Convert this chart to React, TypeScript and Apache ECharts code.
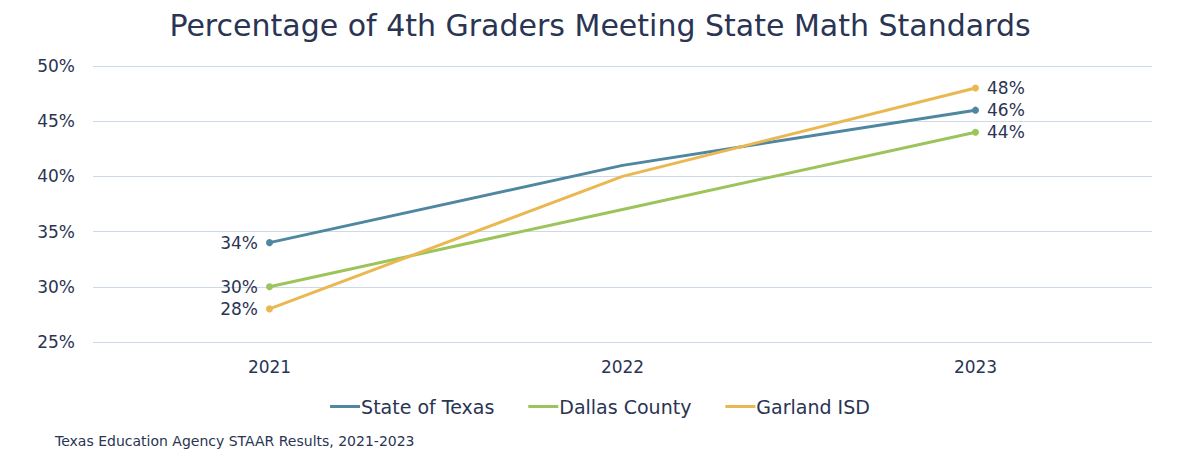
import React, { useEffect, useRef } from "react";
import * as echarts from "echarts";

const years = ["2021", "2022", "2023"];
const texas = [34, 41, 46];
const dallas = [30, 37, 44];
const garland = [28, 40, 48];
const seriesNames = ["State of Texas", "Dallas County", "Garland ISD"];
const colors = ["#4f87a0", "#9cc45b", "#eab851"];

const TEXT = "#2a3453";
const FONT = "DejaVu Sans";

function makeData(vals: number[]) {
  return vals.map((v, i) => ({
    value: v,
    symbolSize: i === 1 ? 0 : 7,
    label: {
      show: i !== 1,
      position: i === 0 ? "left" : "right",
      formatter: "{c}%",
      color: TEXT,
      fontSize: 17,
      fontFamily: FONT,
      distance: 8,
    },
  }));
}

export default function App() {
  const ref = useRef<HTMLDivElement>(null);
  useEffect(() => {
    const chart = echarts.init(ref.current!, null, { renderer: "svg" });
    const all = [texas, dallas, garland];
    chart.setOption({
      animation: false,
      backgroundColor: "#ffffff",
      title: {
        text: "Percentage of 4th Graders Meeting State Math Standards",
        left: "center",
        top: 5,
        textStyle: { color: TEXT, fontSize: 30, fontWeight: "normal", fontFamily: FONT },
      },
      graphic: [
        {
          type: "text",
          left: 55,
          top: 434,
          style: {
            text: "Texas Education Agency STAAR Results, 2021-2023",
            fill: TEXT,
            fontSize: 14,
            fontFamily: FONT,
          },
        },
      ],
      legend: {
        top: 392,
        left: "center",
        itemWidth: 30,
        itemHeight: 3,
        itemGap: 34,
        icon: "rect",
        textStyle: { color: TEXT, fontSize: 19, fontFamily: FONT, padding: [0, 0, 0, -4] },
        data: seriesNames,
      },
      grid: { left: 93, right: 48, top: 66, bottom: 121, containLabel: false },
      xAxis: {
        type: "category",
        data: years,
        boundaryGap: true,
        axisLine: { show: false },
        axisTick: { show: false },
        axisLabel: { color: TEXT, fontSize: 17, fontFamily: FONT, margin: 16 },
      },
      yAxis: {
        type: "value",
        min: 25,
        max: 50,
        interval: 5,
        axisLine: { show: false },
        axisTick: { show: false },
        splitLine: { lineStyle: { color: "#cdd9e5", width: 1 } },
        axisLabel: {
          color: TEXT,
          fontSize: 17,
          fontFamily: FONT,
          margin: 18,
          formatter: "{value}%",
        },
      },
      series: all.map((vals, i) => ({
        name: seriesNames[i],
        type: "line",
        data: makeData(vals),
        symbol: "circle",
        lineStyle: { color: colors[i], width: 3 },
        itemStyle: { color: colors[i] },
        color: colors[i],
      })),
    });
    return () => chart.dispose();
  }, []);
  return <div ref={ref} style={{ width: 1200, height: 463, margin: -8 }} />;
}
